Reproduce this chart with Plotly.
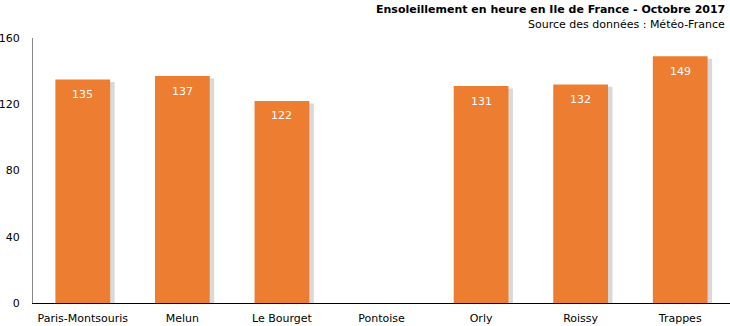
import plotly.graph_objects as go

stations = ["Paris-Montsouris", "Melun", "Le Bourget", "Pontoise", "Orly", "Roissy", "Trappes"]
sunshine_hours = [135, 137, 122, None, 131, 132, 149]
y_ticks = [0, 40, 80, 120, 160]
title_text = "Ensoleillement en heure en Ile de France - Octobre 2017"
source_text = "Source des données : Météo-France"

FONT = "DejaVu Sans"
BAR_W = 0.55

fig = go.Figure()
# soft shadow to the right of each bar
fig.add_trace(go.Bar(
    x=stations, y=[None if v is None else v - 1.5 for v in sunshine_hours],
    width=BAR_W, offset=-BAR_W / 2 + 0.045,
    marker=dict(color="rgba(170,170,170,0.45)", line=dict(width=0)),
    hoverinfo="skip", showlegend=False,
))
fig.add_trace(go.Bar(
    x=stations, y=sunshine_hours,
    width=BAR_W, offset=-BAR_W / 2,
    marker=dict(color="#ED7D31", line=dict(width=0)),
    showlegend=False,
))

annotations = []
for s, v in zip(stations, sunshine_hours):
    if v is None:
        continue
    annotations.append(dict(
        x=s, y=v, xref="x", yref="y", text=str(v), showarrow=False,
        yanchor="middle", yshift=-15,
        font=dict(color="white", size=11, family=FONT),
    ))

annotations += [
    dict(text="<b>" + title_text + "</b>", xref="paper", yref="paper",
         x=1, y=1, xanchor="right", yanchor="bottom", yshift=20, xshift=-3,
         showarrow=False, font=dict(size=11, family=FONT, color="black")),
    dict(text=source_text, xref="paper", yref="paper",
         x=1, y=1, xanchor="right", yanchor="bottom", yshift=5, xshift=-3,
         showarrow=False, font=dict(size=11, family=FONT, color="black")),
]

fig.update_layout(
    width=730, height=326,
    margin=dict(l=33, r=0, t=38, b=23),
    paper_bgcolor="white", plot_bgcolor="white",
    barmode="overlay",
    font=dict(family=FONT, size=11, color="black"),
    xaxis=dict(
        showgrid=False, showline=True, linecolor="black", linewidth=1,
        ticks="", tickfont=dict(size=11, family=FONT), fixedrange=True,
        ticklabelstandoff=5,
    ),
    yaxis=dict(
        range=[0, 160], tickvals=y_ticks, showgrid=False, zeroline=False,
        showline=True, linecolor="#888888", linewidth=1, ticks="",
        tickfont=dict(size=11, family=FONT), ticklabelstandoff=10,
    ),
    annotations=annotations,
)

fig.write_html("out.html")
